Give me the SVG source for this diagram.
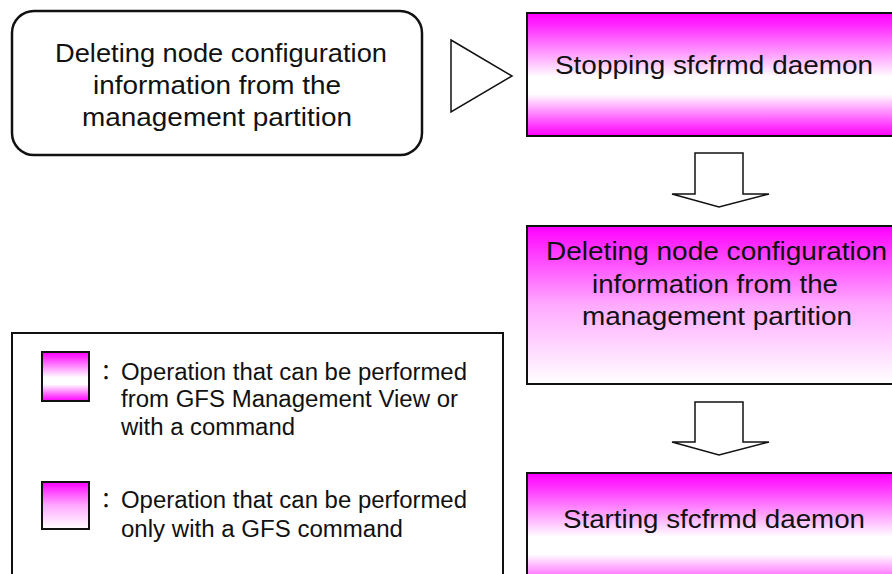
<svg xmlns="http://www.w3.org/2000/svg" width="892" height="574" viewBox="0 0 892 574">
<defs>
<linearGradient id="gBoth" x1="0" y1="0" x2="0" y2="1">
<stop offset="0" stop-color="#ff00ff"/>
<stop offset="0.12" stop-color="#ff33ff"/>
<stop offset="0.52" stop-color="#ffffff"/>
<stop offset="0.66" stop-color="#ffffff"/>
<stop offset="0.9" stop-color="#ff44ff"/>
<stop offset="1" stop-color="#ff00ff"/>
</linearGradient>
<linearGradient id="gDown" x1="0" y1="0" x2="0" y2="1">
<stop offset="0" stop-color="#ff00ff"/>
<stop offset="0.5" stop-color="#ffaaff"/>
<stop offset="1" stop-color="#ffffff"/>
</linearGradient>
<style>
.t{font-family:"Liberation Sans",Arial,sans-serif;fill:#111;}
.c{font-family:"Noto Sans CJK JP","Noto Sans CJK SC",sans-serif;fill:#111;font-size:22px;}
.big{font-size:26px;}
.leg{font-size:23px;}
.box{stroke:#111;stroke-width:2;}
.arr{fill:#fff;stroke:#111;stroke-width:1.5;stroke-linejoin:miter;}
</style>
</defs>
<rect width="892" height="574" fill="#fff"/>
<g id="start">
<rect x="12" y="11" width="410" height="144" rx="22" ry="22" fill="#fff" stroke="#111" stroke-width="2.5"/>
<text class="t big">
<tspan x="55" y="62" textLength="332" lengthAdjust="spacingAndGlyphs">Deleting node configuration</tspan>
<tspan x="93" y="94" textLength="248" lengthAdjust="spacingAndGlyphs">information from the</tspan>
<tspan x="82" y="126" textLength="270" lengthAdjust="spacingAndGlyphs">management partition</tspan>
</text>
</g>
<g id="connectors">
<polygon class="arr" points="451,40 512,76 451,112"/>
<polygon class="arr" points="695,153 743,153 743,194 769,194 719,207 672,194 695,194"/>
<polygon class="arr" points="695,402 743,402 743,442 769,442 719,455 672,442 695,442"/>
</g>
<g id="stop">
<rect class="box" x="527" y="13" width="380" height="123" fill="url(#gBoth)"/>
<text class="t big" x="555" y="74" textLength="318" lengthAdjust="spacingAndGlyphs">Stopping sfcfrmd daemon</text>
</g>
<g id="delete">
<rect class="box" x="527" y="226" width="380" height="158" fill="url(#gDown)"/>
<text class="t big">
<tspan x="546" y="260" textLength="341" lengthAdjust="spacingAndGlyphs">Deleting node configuration</tspan>
<tspan x="592" y="293" textLength="246" lengthAdjust="spacingAndGlyphs">information from the</tspan>
<tspan x="582" y="325" textLength="270" lengthAdjust="spacingAndGlyphs">management partition</tspan>
</text>
</g>
<g id="startd">
<rect class="box" x="527" y="473" width="380" height="123" fill="url(#gBoth)"/>
<text class="t big" x="563" y="528" textLength="302" lengthAdjust="spacingAndGlyphs">Starting sfcfrmd daemon</text>
</g>
<g id="legend">
<rect x="12" y="333" width="491" height="260" fill="#fff" stroke="#111" stroke-width="2"/>
<rect class="box" x="42" y="352" width="47" height="49" fill="url(#gBoth)"/>
<text class="c" x="95" y="380">：</text>
<text class="t leg">
<tspan x="121" y="380" textLength="346" lengthAdjust="spacingAndGlyphs">Operation that can be performed</tspan>
<tspan x="121" y="407" textLength="337" lengthAdjust="spacingAndGlyphs">from GFS Management View or</tspan>
<tspan x="121" y="435" textLength="174" lengthAdjust="spacingAndGlyphs">with a command</tspan>
</text>
<rect class="box" x="42" y="482" width="47" height="47" fill="url(#gDown)"/>
<text class="c" x="95" y="508">：</text>
<text class="t leg">
<tspan x="121" y="508" textLength="346" lengthAdjust="spacingAndGlyphs">Operation that can be performed</tspan>
<tspan x="121" y="537" textLength="282" lengthAdjust="spacingAndGlyphs">only with a GFS command</tspan>
</text>
</g>
</svg>
